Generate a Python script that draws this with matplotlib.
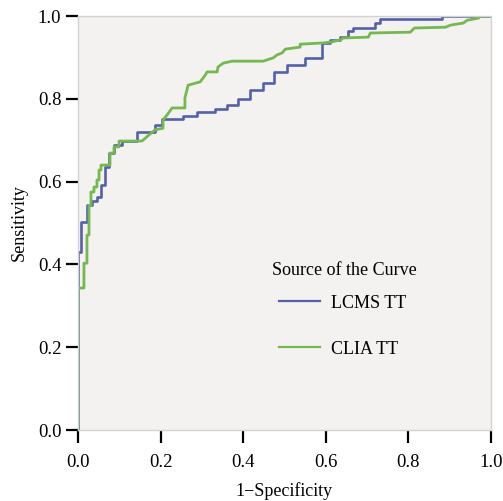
import matplotlib
matplotlib.use("Agg")
import matplotlib.pyplot as plt

# ROC step vertices (1-specificity, sensitivity)
lcms_fpr = [0.0, 0.0, 0.0073, 0.0073, 0.0218, 0.0218, 0.034, 0.034, 0.046, 0.046,
            0.0558, 0.0558, 0.0655, 0.0655, 0.0752, 0.0752, 0.0873, 0.0873, 0.1067, 0.1067,
            0.143, 0.143, 0.1867, 0.1867, 0.2036, 0.2036, 0.2545, 0.2545, 0.2885, 0.2885,
            0.332, 0.332, 0.361, 0.361, 0.388, 0.388, 0.417, 0.417, 0.4485, 0.4485,
            0.475, 0.475, 0.507, 0.507, 0.550, 0.550, 0.5915, 0.5915, 0.611, 0.611,
            0.635, 0.635, 0.6545, 0.6545, 0.667, 0.667, 0.72, 0.72, 0.732, 0.732,
            0.882, 0.882, 1.0]
lcms_tpr = [0.0, 0.43, 0.43, 0.502, 0.502, 0.543, 0.543, 0.553, 0.553, 0.563,
            0.563, 0.592, 0.592, 0.635, 0.635, 0.669, 0.669, 0.688, 0.688, 0.698,
            0.698, 0.72, 0.72, 0.737, 0.737, 0.751, 0.751, 0.758, 0.758, 0.768,
            0.768, 0.775, 0.775, 0.785, 0.785, 0.80, 0.80, 0.821, 0.821, 0.838,
            0.838, 0.865, 0.865, 0.882, 0.882, 0.899, 0.899, 0.935, 0.935, 0.942,
            0.942, 0.949, 0.949, 0.964, 0.964, 0.971, 0.971, 0.983, 0.983, 0.993,
            0.993, 1.0, 1.0]

clia_fpr = [0.0, 0.0, 0.0145, 0.0145, 0.0218, 0.0218, 0.0267, 0.0267, 0.0315, 0.0315,
            0.0388, 0.0388, 0.046, 0.046, 0.051, 0.051, 0.0558, 0.0558, 0.0776, 0.0776,
            0.0873, 0.0873, 0.0994, 0.0994, 0.155, 0.1745, 0.1867, 0.206, 0.206, 0.2158,
            0.228, 0.259, 0.259, 0.2667, 0.296, 0.308, 0.3127, 0.337, 0.339, 0.3515,
            0.373, 0.4485, 0.473, 0.482, 0.4945, 0.502, 0.538, 0.538, 0.594, 0.611,
            0.635, 0.642, 0.703, 0.708, 0.805, 0.8145, 0.89, 0.902, 0.933, 0.943,
            0.97, 0.975, 1.0]
clia_tpr = [0.0, 0.343, 0.343, 0.403, 0.403, 0.471, 0.471, 0.543, 0.543, 0.575,
            0.575, 0.587, 0.587, 0.604, 0.604, 0.628, 0.628, 0.64, 0.64, 0.669,
            0.669, 0.684, 0.684, 0.698, 0.698, 0.715, 0.725, 0.729, 0.749, 0.761,
            0.778, 0.778, 0.802, 0.833, 0.841, 0.857, 0.865, 0.865, 0.877, 0.886,
            0.891, 0.891, 0.899, 0.906, 0.911, 0.920, 0.925, 0.932, 0.935, 0.937,
            0.942, 0.947, 0.949, 0.959, 0.961, 0.971, 0.973, 0.978, 0.983, 0.990,
            0.995, 1.0, 1.0]

ticks = [0.0, 0.2, 0.4, 0.6, 0.8, 1.0]

plt.rcParams['font.family'] = ['Liberation Serif', 'DejaVu Serif']

fig = plt.figure(figsize=(5.03, 5.01), dpi=100)
ax = fig.add_axes([0.155, 0.1417, 0.821, 0.8263])
ax.set_facecolor('#F3F2F1')

ax.plot(lcms_fpr, lcms_tpr, color='#5461A8', linewidth=1.9, label='LCMS TT')
ax.plot(clia_fpr, clia_tpr, color='#74B84F', linewidth=2.0, label='CLIA TT')

ax.set_xlim(0, 1)
ax.set_ylim(0, 1)
ax.set_xticks(ticks)
ax.set_yticks(ticks)
ax.set_xticklabels(['%.1f' % t for t in ticks])
ax.set_yticklabels(['%.1f' % t for t in ticks])
ax.tick_params(direction='out', length=9, width=1.6, color='black', labelsize=13.5)
ax.tick_params(axis='x', pad=8)
ax.tick_params(axis='y', pad=3)

for s in ax.spines.values():
    s.set_color('#D2D2D2')
    s.set_linewidth(1)

ax.set_xlabel('1\u2212Specificity', fontsize=13, labelpad=8)
ax.set_ylabel('Sensitivity', fontsize=13, labelpad=7.5)

# legend title drawn separately so it sits closer to the entries
ax.text(0.47, 0.386, 'Source of the Curve', transform=ax.transAxes,
        fontsize=13, ha='left', va='center')
leg = ax.legend(loc='upper left', bbox_to_anchor=(0.447, 0.366),
                frameon=False, fontsize=13, handlelength=2.3,
                handletextpad=0.6, labelspacing=1.6)
for h in leg.get_lines():
    h.set_linewidth(1.6)

fig.savefig('out.png', dpi=100)
